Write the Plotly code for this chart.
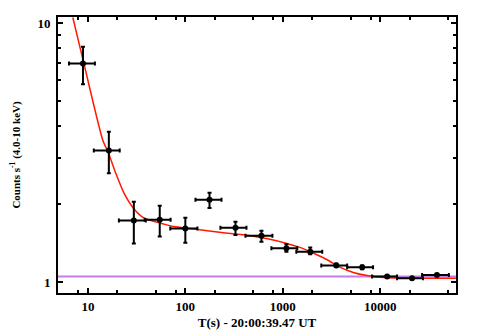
import plotly.graph_objects as go

# light curve points (time since trigger, s ; rate, counts/s)
t_mid = [8.9, 16.4, 29.6, 54.6, 100, 177, 327, 604, 1089, 1914, 3540, 6530, 11780, 21230, 38200]
t_lo = [6.4, 11.5, 20.8, 38.3, 70, 127, 229, 414, 764, 1377, 2484, 4580, 8260, 14900, 26900]
t_hi = [11.8, 21.2, 39.3, 70.6, 133, 235, 424, 783, 1409, 2541, 4581, 8450, 14900, 27500, 50700]
rate = [6.97, 3.22, 1.73, 1.74, 1.61, 2.08, 1.62, 1.51, 1.35, 1.31, 1.16, 1.14, 1.05, 1.035, 1.065]
rate_lo = [5.8, 2.63, 1.41, 1.50, 1.42, 1.93, 1.52, 1.43, 1.31, 1.28, 1.15, 1.12, 1.04, 1.025, 1.055]
rate_hi = [8.1, 3.80, 2.04, 1.97, 1.77, 2.21, 1.71, 1.58, 1.40, 1.36, 1.18, 1.16, 1.06, 1.045, 1.075]

# fitted model
model_t = [7.0, 9.1, 14.3, 16.0, 19.4, 23.4, 29.6, 37.4, 52.0, 75.9, 113, 246, 466, 700, 1100,
           1600, 2100, 2860, 3890, 5290, 7340, 9970, 16000, 59800]
model_rate = [10.5, 6.97, 3.50, 3.20, 2.62, 2.21, 1.92, 1.77, 1.70, 1.64, 1.61, 1.55, 1.51, 1.47, 1.41,
              1.35, 1.29, 1.22, 1.14, 1.09, 1.06, 1.045, 1.037, 1.035]

background = 1.05

x_major = [10, 100, 1000, 10000]
x_minor = [5, 8, 20, 50, 80, 200, 500, 800, 2000, 5000, 8000, 20000, 50000]
y_major = [1, 10]
y_minor = [2, 3, 4, 5, 6, 7, 8, 9]

serif = "Liberation Serif"

fig = go.Figure()
fig.add_trace(go.Scatter(x=model_t, y=model_rate, mode="lines",
                         line=dict(color="#ff1a00", width=1.5, shape="spline", smoothing=0.7),
                         hoverinfo="skip"))
fig.add_trace(go.Scatter(
    x=t_mid, y=rate, mode="markers",
    marker=dict(color="black", size=6),
    error_x=dict(type="data", symmetric=False,
                 array=[h - m for h, m in zip(t_hi, t_mid)],
                 arrayminus=[m - l for l, m in zip(t_lo, t_mid)],
                 color="black", thickness=2, width=2),
    error_y=dict(type="data", symmetric=False,
                 array=[h - m for h, m in zip(rate_hi, rate)],
                 arrayminus=[m - l for l, m in zip(rate_lo, rate)],
                 color="black", thickness=2, width=2),
))
fig.add_hline(y=background, line=dict(color="#c47ee8", width=2), layer="below")

axis_common = dict(type="log", showline=True, linecolor="black", linewidth=2, mirror="ticks",
                   ticks="inside", ticklen=5, tickwidth=2, tickcolor="black",
                   showgrid=False, zeroline=False,
                   tickfont=dict(family=serif, size=13, color="black"))

fig.update_xaxes(**axis_common, range=[0.693, 4.778], tickmode="array", tickvals=x_major,
                 ticktext=[f"<b>{v}</b>" for v in x_major],
                 minor=dict(tickmode="array", tickvals=x_minor, ticks="inside", ticklen=3,
                            tickwidth=2, tickcolor="black"),
                 title=dict(text="<b>T(s) - 20:00:39.47 UT</b>",
                            font=dict(family=serif, size=13, color="black"), standoff=5))
fig.update_yaxes(**axis_common, range=[-0.042, 1.023], tickmode="array", tickvals=y_major,
                 ticktext=[f"<b>{v}</b>" for v in y_major],
                 minor=dict(tickmode="array", tickvals=y_minor, ticks="inside", ticklen=3,
                            tickwidth=2, tickcolor="black"),
                 ticklabelstandoff=3,
                 title=dict(text="<b>Counts s<sup>-1</sup> (4.0-10 keV)</b>",
                            font=dict(family=serif, size=11, color="black"), standoff=15))

# page body adds an 8px offset, margins account for it
fig.update_layout(width=480, height=336, showlegend=False,
                  margin=dict(l=49, r=32, t=7, b=51),
                  plot_bgcolor="white", paper_bgcolor="white")

fig.write_html("out.html")
